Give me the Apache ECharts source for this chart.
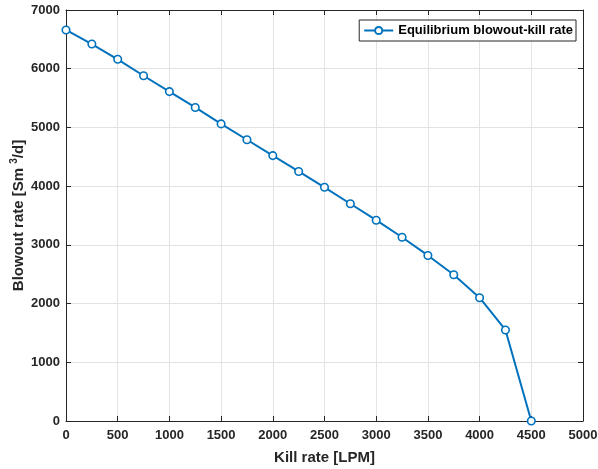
<!DOCTYPE html>
<html>
<head>
<meta charset="utf-8">
<script src="https://cdn.jsdelivr.net/npm/echarts@6/dist/echarts.min.js"></script>
<style>
html,body{margin:0;padding:0;background:#fff;}
#main{width:598px;height:469px;}
</style>
</head>
<body>
<div id="main"></div>
<script>
var killRate = [0,250,500,750,1000,1250,1500,1750,2000,2250,2500,2750,3000,3250,3500,3750,4000,4250,4500];
var blowoutRate = [6660,6420,6160,5880,5610,5340,5060,4790,4520,4250,3980,3700,3420,3130,2820,2490,2100,1550,0];
var seriesName = 'Equilibrium blowout-kill rate';
var xTicks = {min:0, max:5000, interval:500};
var yTicks = {min:0, max:7000, interval:1000};

var FONT = '"Liberation Sans", Arial, Helvetica, sans-serif';
var axisColor = '#262626';
var gridColor = '#e3e3e3';

var chart = echarts.init(document.getElementById('main'), null, {renderer:'canvas'});
var data = killRate.map(function(x,i){return [x, blowoutRate[i]];});

function mainAxisCommon(){
  return {
    axisLine:{show:true, onZero:false, lineStyle:{color:axisColor, width:1}},
    axisTick:{show:true, inside:true, length:5, lineStyle:{color:axisColor}},
    axisLabel:{color:'#262626', fontFamily:FONT, fontWeight:'bold', fontSize:13,
      formatter:function(v){return String(v);}},
    splitLine:{show:true, lineStyle:{color:gridColor, width:1}}
  };
}
function secAxis(pos, t){
  return {
    type:'value', position:pos, min:t.min, max:t.max, interval:t.interval,
    axisLine:{show:true, onZero:false, lineStyle:{color:axisColor, width:1}},
    axisTick:{show:true, inside:true, length:5, lineStyle:{color:axisColor}},
    axisLabel:{show:false}, splitLine:{show:false}
  };
}

var xMain = Object.assign({type:'value', position:'bottom', min:xTicks.min, max:xTicks.max, interval:xTicks.interval,
  name:'Kill rate [LPM]', nameLocation:'middle', nameGap:29, nameMoveOverlap:false,
  nameTextStyle:{color:'#262626', fontFamily:FONT, fontWeight:'bold', fontSize:15}}, mainAxisCommon());
xMain.axisLabel.margin = 8;
var yMain = Object.assign({type:'value', position:'left', min:yTicks.min, max:yTicks.max, interval:yTicks.interval,
  name:'{n|Blowout rate [Sm }{s|3}{n|/d]}', nameLocation:'middle', nameGap:40, nameMoveOverlap:false,
  nameTextStyle:{color:'#262626', fontFamily:FONT, fontWeight:'bold', fontSize:15,
    rich:{
      n:{fontFamily:FONT, fontWeight:'bold', fontSize:15, color:'#262626', lineHeight:17, verticalAlign:'bottom'},
      s:{fontFamily:FONT, fontWeight:'bold', fontSize:10, color:'#262626', lineHeight:17, verticalAlign:'top'}
    }}}, mainAxisCommon());
yMain.axisLabel.margin = 6;

chart.setOption({
  animation:false,
  backgroundColor:'#ffffff',
  grid:{left:66, right:15, top:10, bottom:48, containLabel:false, outerBoundsMode:'none'},
  legend:{
    show:true, right:22, top:20, orient:'vertical',
    backgroundColor:'#ffffff', borderColor:'#262626', borderWidth:1, borderRadius:0,
    padding:[4,3,4,4], itemWidth:29, itemHeight:9, itemGap:5,
    textStyle:{color:'#000', fontFamily:FONT, fontWeight:'bold', fontSize:13, lineHeight:13},
    data:[seriesName]
  },
  xAxis:[xMain, secAxis('top', xTicks)],
  yAxis:[yMain, secAxis('right', yTicks)],
  series:[{
    name:seriesName, type:'line', data:data, xAxisIndex:0, yAxisIndex:0,
    symbol:'circle', symbolSize:7.5, showSymbol:true,
    lineStyle:{color:'#0072BD', width:2},
    itemStyle:{color:'#ffffff', borderColor:'#0072BD', borderWidth:1.6},
    emphasis:{disabled:true}
  }]
});
</script>
</body>
</html>
